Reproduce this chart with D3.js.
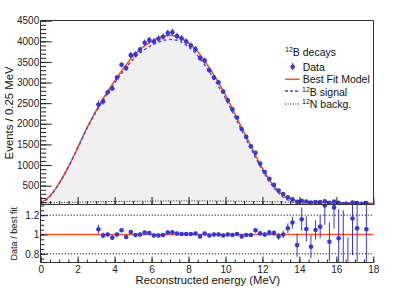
<!DOCTYPE html>
<html>
<head>
<meta charset="utf-8">
<script src="https://cdn.jsdelivr.net/npm/d3@7"></script>
<style>
body { margin: 0; background: #fff; }
svg { display: block; font-family: "Liberation Sans", Arial, sans-serif; }
</style>
</head>
<body>
<div id="chart"></div>
<script>
// bin centres (MeV), 0.25 MeV bins
var energy = [3.125,3.375,3.625,3.875,4.125,4.375,4.625,4.875,5.125,5.375,5.625,5.875,6.125,6.375,6.625,6.875,
  7.125,7.375,7.625,7.875,8.125,8.375,8.625,8.875,9.125,9.375,9.625,9.875,10.125,10.375,10.625,10.875,
  11.125,11.375,11.625,11.875,12.125,12.375,12.625,12.875,13.125,13.375,13.625,13.875,14.125,14.375,14.625,
  14.875,15.125,15.375,15.625,15.875,16.125,16.375,16.625,16.875,17.125,17.375,17.625];
var counts = [2465,2540,2762,2854,3120,3430,3350,3665,3684,3798,3967,4030,3995,4064,4112,4200,
  4220,4125,4071,3995,3900,3810,3595,3532,3297,3120,3007,2782,2571,2350,2150,1872,
  1682,1453,1295,1037,830,667,518,382,295,218,168,107,134,114,89,
  102,102,118,82,111,81,53,43,89,79,60,76];
// data / best fit
var ratio = [1.054,0.99,1.0,0.967,1.0,1.044,0.974,1.026,0.995,1.0,1.02,1.016,0.99,0.99,0.995,1.02,
  1.023,1.01,1.005,1.005,1.005,1.01,0.98,1.01,0.99,1.0,1.0,0.99,1.0,0.995,1.005,0.98,
  0.995,0.995,1.044,1.012,1.0,1.019,1.016,0.98,1.0,1.065,1.123,0.89,1.158,1.057,0.873,
  1.047,1.081,1.30,0.925,1.28,0.96,0.65,0.55,1.165,1.065,null,1.054];
var ratioErr = [0.045,0.03,0.02,0.02,0.02,0.02,0.02,0.02,0.02,0.02,0.02,0.02,0.02,0.02,0.02,0.02,
  0.02,0.02,0.02,0.02,0.02,0.02,0.02,0.02,0.02,0.02,0.02,0.02,0.02,0.02,0.02,0.02,
  0.02,0.02,0.025,0.025,0.025,0.03,0.03,0.035,0.04,0.05,0.06,0.12,0.12,0.13,0.12,
  0.1,0.12,0.2,0.2,0.22,0.3,0.6,0.42,0.38,0.5,0.5,0.6];

// fitted curves, sampled every 0.5 MeV
var curveE = [0,0.5,1,1.5,2,2.5,3,3.5,4,4.5,5,5.5,6,6.5,7,7.5,8,8.5,9,9.5,10,10.5,11,11.5,12,12.5,13,13.5,14,14.5,15,15.5,16,16.5,17,17.5,18];
var fitCurve = [80,250,560,960,1420,1900,2320,2700,3040,3360,3640,3850,4000,4110,4150,4100,3960,3750,3440,3090,
  2700,2250,1800,1350,920,560,310,175,120,105,95,90,85,80,76,72,70];
var signalCurve = [60,235,550,950,1405,1880,2290,2655,2985,3290,3560,3760,3900,4000,4045,4000,3860,3650,3345,3000,
  2615,2175,1730,1290,870,515,265,125,70,50,42,38,35,33,32,31,30];
var bkgE = [0,2,4,6,8,10,12,14,16,18];
var bkgCurve = [80,100,115,125,130,125,115,95,80,70];

var yTicksMain = [500,1000,1500,2000,2500,3000,3500,4000,4500];
var yTicksRatio = [0.8,1,1.2];
var xTicks = [0,2,4,6,8,10,12,14,16,18];

var W = 415, H = 294;
var pLeft = 40.7, pRight = 373.3, pTop = 20.7, pMid = 205, pBottom = 262.5;

var blue = "#3737d8", red = "#ff4d1f";

var x = d3.scaleLinear().domain([0, 18]).range([pLeft, pRight]);
var y = d3.scaleLinear().domain([30, 4500]).range([pMid, pTop]);
var yr = d3.scaleLinear().domain([0.71, 1.305]).range([pBottom, pMid]);

var svg = d3.select("#chart").append("svg").attr("width", W).attr("height", H);
svg.append("rect").attr("width", W).attr("height", H).attr("fill", "#fff");

svg.append("clipPath").attr("id", "clipMain").append("rect")
  .attr("x", pLeft).attr("y", pTop).attr("width", pRight - pLeft).attr("height", pMid - pTop);
svg.append("clipPath").attr("id", "clipRatio").append("rect")
  .attr("x", pLeft).attr("y", pMid).attr("width", pRight - pLeft).attr("height", pBottom - pMid);

var main = svg.append("g").attr("clip-path", "url(#clipMain)");

// grey area under the best fit
main.append("path")
  .datum(curveE.map(function(e, i) { return [e, fitCurve[i]]; }))
  .attr("fill", "#f0f0f0")
  .attr("d", d3.area().curve(d3.curveMonotoneX)
    .x(function(d) { return x(d[0]); }).y0(y(30)).y1(function(d) { return y(d[1]); }));

var line = d3.line().curve(d3.curveMonotoneX)
  .x(function(d) { return x(d[0]); }).y(function(d) { return y(d[1]); });

main.append("path")
  .datum(bkgE.map(function(e, i) { return [e, bkgCurve[i]]; }))
  .attr("fill", "none").attr("stroke", "#222").attr("stroke-width", 1)
  .attr("stroke-dasharray", "1,1.6").attr("d", line);

main.append("path")
  .datum(curveE.map(function(e, i) { return [e, fitCurve[i]]; }))
  .attr("fill", "none").attr("stroke", red).attr("stroke-width", 1.5).attr("d", line);

main.append("path")
  .datum(curveE.map(function(e, i) { return [e, signalCurve[i]]; }))
  .attr("fill", "none").attr("stroke", "#4646e6").attr("stroke-width", 1.3)
  .attr("stroke-dasharray", "3,2.5").attr("d", line);

// data points
var pts = energy.map(function(e, i) {
  var r = ratio[i] === null ? 1 : ratio[i];
  return { e: e, n: counts[i], err: counts[i] * ratioErr[i] / r, r: ratio[i], rerr: ratioErr[i] };
});

main.selectAll("line.err").data(pts).enter().append("line")
  .attr("x1", function(d) { return x(d.e); }).attr("x2", function(d) { return x(d.e); })
  .attr("y1", function(d) { return y(d.n - d.err); }).attr("y2", function(d) { return y(d.n + d.err); })
  .attr("stroke", blue).attr("stroke-width", 1);
main.selectAll("circle").data(pts).enter().append("circle")
  .attr("cx", function(d) { return x(d.e); }).attr("cy", function(d) { return y(d.n); })
  .attr("r", 2.3).attr("fill", blue);

// ratio panel
var rat = svg.append("g").attr("clip-path", "url(#clipRatio)");
[1.2, 0.8].forEach(function(v) {
  rat.append("line").attr("x1", pLeft).attr("x2", pRight)
    .attr("y1", yr(v)).attr("y2", yr(v))
    .attr("stroke", "#111").attr("stroke-width", 1).attr("stroke-dasharray", "1.2,1.8");
});
rat.append("line").attr("x1", x(0)).attr("x2", x(18)).attr("y1", yr(1)).attr("y2", yr(1))
  .attr("stroke", red).attr("stroke-width", 1.5);

var rpts = pts.filter(function(d) { return d.r !== null; });
rat.selectAll("line.err").data(rpts).enter().append("line")
  .attr("x1", function(d) { return x(d.e); }).attr("x2", function(d) { return x(d.e); })
  .attr("y1", function(d) { return yr(d.r - d.rerr); }).attr("y2", function(d) { return yr(d.r + d.rerr); })
  .attr("stroke", blue).attr("stroke-width", 1);
rat.selectAll("circle").data(rpts).enter().append("circle")
  .attr("cx", function(d) { return x(d.e); }).attr("cy", function(d) { return yr(d.r); })
  .attr("r", 2.3).attr("fill", blue);

// axes
function range(a, b, s) { var out = []; for (var v = a; v <= b + 1e-9; v += s) out.push(+v.toFixed(3)); return out; }
function styleAxis(g) {
  g.select(".domain").remove();
  g.selectAll(".tick line").attr("stroke", "#222");
  g.selectAll(".tick text").attr("fill", "#222").style("font-family", "Liberation Sans, Arial, sans-serif");
}

svg.append("g").attr("transform", "translate(" + pLeft + ",0)")
  .call(d3.axisLeft(y).tickValues(range(100, 4500, 100)).tickSize(-5.5).tickFormat(""))
  .call(styleAxis);
svg.append("g").attr("transform", "translate(" + pLeft + ",0)")
  .call(d3.axisLeft(y).tickValues(yTicksMain).tickSize(-11).tickPadding(1.5).tickFormat(d3.format("d")))
  .call(styleAxis).selectAll("text").attr("font-size", 10);

svg.append("g").attr("transform", "translate(0," + pMid + ")")
  .call(d3.axisBottom(x).tickValues(range(0, 18, 0.5)).tickSize(-4).tickFormat(""))
  .call(styleAxis);
svg.append("g").attr("transform", "translate(0," + pMid + ")")
  .call(d3.axisBottom(x).tickValues(xTicks).tickSize(-8).tickFormat(""))
  .call(styleAxis);

svg.append("g").attr("transform", "translate(" + pLeft + ",0)")
  .call(d3.axisLeft(yr).tickValues(range(0.75, 1.3, 0.05)).tickSize(-3.5).tickFormat(""))
  .call(styleAxis);
svg.append("g").attr("transform", "translate(" + pLeft + ",0)")
  .call(d3.axisLeft(yr).tickValues(yTicksRatio).tickSize(-7).tickPadding(1.5).tickFormat(d3.format("")))
  .call(styleAxis).selectAll("text").attr("font-size", 10);

svg.append("g").attr("transform", "translate(0," + pBottom + ")")
  .call(d3.axisBottom(x).tickValues(range(0, 18, 0.5)).tickSize(-3).tickFormat(""))
  .call(styleAxis);
svg.append("g").attr("transform", "translate(0," + pBottom + ")")
  .call(d3.axisBottom(x).tickValues(xTicks).tickSize(-6).tickPadding(3).tickFormat(d3.format("d")))
  .call(styleAxis).selectAll("text").attr("font-size", 10);

// frames
var fr = svg.append("g").attr("fill", "none").attr("stroke", "#333").attr("stroke-width", 1);
fr.append("path").attr("d", "M40.5,262.5V20.5H373.5V205");
fr.append("path").attr("d", "M40.5,204.5H373.5");
fr.append("path").attr("d", "M40.5,262.5H373.5");

// titles
svg.append("text").attr("transform", "translate(12.5," + ((pTop + pMid) / 2) + ") rotate(-90)")
  .attr("text-anchor", "middle").attr("font-size", 11.4).attr("fill", "#111").text("Events / 0.25 MeV");
svg.append("text").attr("transform", "translate(16.5," + ((pMid + pBottom) / 2) + ") rotate(-90)")
  .attr("text-anchor", "middle").attr("font-size", 9.1).attr("fill", "#111").text("Data / best fit");
svg.append("text").attr("x", 280).attr("y", 283.5).attr("text-anchor", "end")
  .attr("font-size", 11.3).attr("fill", "#111").text("Reconstructed energy (MeV)");

// legend
var lg = svg.append("g").attr("font-size", 10.5).attr("fill", "#111");
function supText(g, xx, yy, sup, rest) {
  var t = g.append("text").attr("x", xx).attr("y", yy);
  t.append("tspan").attr("font-size", 7).attr("dy", -4).text(sup);
  t.append("tspan").attr("dy", 4).text(rest);
}
supText(lg, 285, 56, "12", "B decays");
lg.append("line").attr("x1", 292.7).attr("x2", 292.7).attr("y1", 63).attr("y2", 70.5).attr("stroke", blue);
lg.append("circle").attr("cx", 292.7).attr("cy", 66.7).attr("r", 2.3).attr("fill", blue);
lg.append("text").attr("x", 302.7).attr("y", 70.5).text("Data");
lg.append("line").attr("x1", 285).attr("x2", 299.5).attr("y1", 79.3).attr("y2", 79.3)
  .attr("stroke", red).attr("stroke-width", 1.5);
lg.append("text").attr("x", 302.7).attr("y", 83.3).text("Best Fit Model");
lg.append("line").attr("x1", 285).attr("x2", 299.5).attr("y1", 91).attr("y2", 91)
  .attr("stroke", "#4646e6").attr("stroke-width", 1.3).attr("stroke-dasharray", "3,2");
supText(lg, 302, 95.5, "12", "B signal");
lg.append("line").attr("x1", 285).attr("x2", 299.5).attr("y1", 104).attr("y2", 104)
  .attr("stroke", "#222").attr("stroke-width", 1).attr("stroke-dasharray", "1,1.6");
supText(lg, 302, 108, "12", "N backg.");
</script>
</body>
</html>
